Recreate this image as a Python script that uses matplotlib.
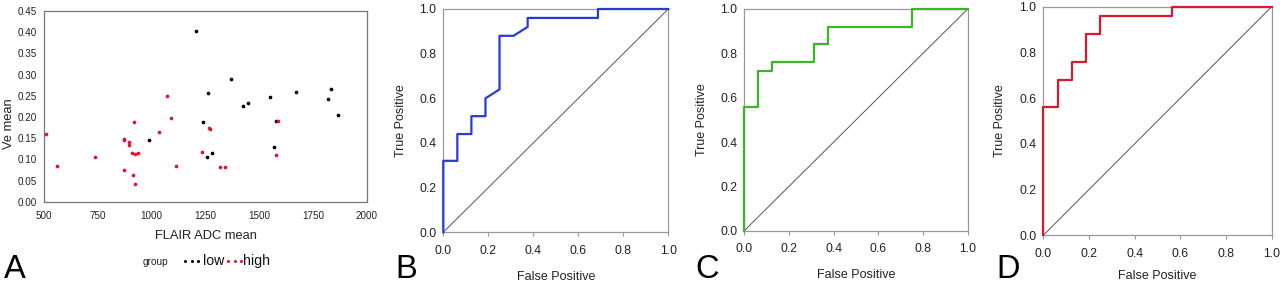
import matplotlib
matplotlib.use("Agg")
import matplotlib.pyplot as plt
from matplotlib.lines import Line2D

plt.rcParams['font.family'] = ['Liberation Sans', 'DejaVu Sans']

# ---- Panel A data: FLAIR ADC mean vs Ve mean ----
low_x = [1205, 1263, 1238, 989, 1258, 1278, 1368, 1426, 1449, 1548, 1672, 1822, 1836, 1868, 1576, 1568]
low_y = [0.404, 0.256, 0.189, 0.146, 0.106, 0.116, 0.289, 0.226, 0.234, 0.247, 0.259, 0.243, 0.265, 0.205, 0.190, 0.128]
high_x = [510, 558, 735, 869, 872, 872, 896, 896, 917, 907, 920, 934, 911, 922, 1032, 1072, 1091, 1114,
          1232, 1268, 1270, 1316, 1339, 1587, 1577]
high_y = [0.159, 0.085, 0.105, 0.074, 0.146, 0.149, 0.135, 0.141, 0.187, 0.114, 0.112, 0.116, 0.063, 0.041,
          0.165, 0.250, 0.197, 0.085, 0.118, 0.175, 0.171, 0.083, 0.083, 0.190, 0.110]

a_xticks = [500, 750, 1000, 1250, 1500, 1750, 2000]
a_yticks = [0.00, 0.05, 0.10, 0.15, 0.20, 0.25, 0.30, 0.35, 0.40, 0.45]

# ---- ROC curves ----
b_fpr = [0, 0, 0.0625, 0.0625, 0.125, 0.125, 0.1875, 0.1875, 0.25, 0.25, 0.3125, 0.375, 0.375, 0.6875, 0.6875, 1.0]
b_tpr = [0, 0.32, 0.32, 0.44, 0.44, 0.52, 0.52, 0.60, 0.64, 0.88, 0.88, 0.92, 0.96, 0.96, 1.0, 1.0]
c_fpr = [0, 0, 0.0625, 0.0625, 0.125, 0.125, 0.3125, 0.3125, 0.375, 0.375, 0.75, 0.75, 1.0]
c_tpr = [0, 0.56, 0.56, 0.72, 0.72, 0.76, 0.76, 0.84, 0.84, 0.92, 0.92, 1.0, 1.0]
d_fpr = [0, 0, 0.0625, 0.0625, 0.125, 0.125, 0.1875, 0.1875, 0.25, 0.25, 0.5625, 0.5625, 1.0]
d_tpr = [0, 0.56, 0.56, 0.68, 0.68, 0.76, 0.76, 0.88, 0.88, 0.96, 0.96, 1.0, 1.0]
roc_ticks = [0.0, 0.2, 0.4, 0.6, 0.8, 1.0]

RED = '#e0142e'
fig = plt.figure(figsize=(12.8, 2.83), dpi=100)

# ---------------- Panel A ----------------
axA = fig.add_axes([0.0346, 0.2872, 0.2519, 0.6739])
axA.scatter(low_x, low_y, s=7, c='black', linewidths=0, zorder=3)
axA.scatter(high_x, high_y, s=7, c=RED, linewidths=0, zorder=3)
axA.set_xlim(500, 2000)
axA.set_ylim(0, 0.45)
axA.set_xticks(a_xticks)
axA.set_xticklabels([str(v) for v in a_xticks])
axA.set_yticks(a_yticks)
axA.set_yticklabels(['%.2f' % v for v in a_yticks])
axA.tick_params(axis='both', length=0, labelsize=7.1, colors='#222222')
axA.tick_params(axis='x', pad=7)
axA.tick_params(axis='y', pad=5)
for sp in axA.spines.values():
    sp.set_color('#777777')
    sp.set_linewidth(0.9)
axA.set_xlabel('FLAIR ADC mean', fontsize=9.3, color='#222222', va='center')
axA.xaxis.set_label_coords(0.5, -0.18)
axA.set_ylabel('Ve mean', fontsize=9.3, color='#222222', va='center')
axA.yaxis.set_label_coords(-0.110, 0.407)

# legend
fig.text(143 / 1280, 1 - 262 / 283, 'group', fontsize=7.3, va='center', ha='left', color='#222222')
for i in range(3):
    fig.add_artist(Line2D([(185 + 6.5 * i) / 1280], [1 - 261 / 283], marker='o', markersize=2.2,
                          markeredgewidth=0, color='black', linestyle='none', transform=fig.transFigure))
    fig.add_artist(Line2D([(228 + 6.5 * i) / 1280], [1 - 261 / 283], marker='o', markersize=2.2,
                          markeredgewidth=0, color=RED, linestyle='none', transform=fig.transFigure))
fig.text(203.5 / 1280, 1 - 261 / 283, 'low', fontsize=10.2, va='center', ha='left', color='#111111')
fig.text(243 / 1280, 1 - 261 / 283, 'high', fontsize=10.2, va='center', ha='left', color='#111111')


def roc_panel(rect, fpr, tpr, color, xlabel_y, ylabel_x):
    ax = fig.add_axes(rect)
    ax.plot([0, 1], [0, 1], color='#555555', linewidth=0.7, zorder=2)
    ax.plot(fpr, tpr, color=color, linewidth=1.6, zorder=3, clip_on=False)
    ax.set_xlim(0, 1)
    ax.set_ylim(0, 1)
    ax.set_xticks(roc_ticks)
    ax.set_yticks(roc_ticks)
    ax.set_xticklabels(['%.1f' % v for v in roc_ticks])
    ax.set_yticklabels(['%.1f' % v for v in roc_ticks])
    ax.tick_params(axis='x', length=3, width=0.8, color='#999999', pad=6, labelsize=8.8, labelcolor='#222222')
    ax.tick_params(axis='y', length=0, pad=5, labelsize=8.8, labelcolor='#222222')
    for sp in ax.spines.values():
        sp.set_color('#999999')
        sp.set_linewidth(0.9)
    ax.set_xlabel('False Positive', fontsize=9, color='#222222', va='center')
    ax.xaxis.set_label_coords(0.5, xlabel_y)
    ax.set_ylabel('True Positive', fontsize=9, color='#222222', va='center')
    ax.yaxis.set_label_coords(ylabel_x, 0.5)
    return ax


roc_panel([0.3463, 0.1792, 0.1758, 0.7890], b_fpr, b_tpr, '#2a3bd0', -0.20, -0.186)
roc_panel([0.5815, 0.1848, 0.1745, 0.7834], c_fpr, c_tpr, '#3cb52a', -0.20, -0.189)
roc_panel([0.8151, 0.1686, 0.1784, 0.8078], d_fpr, d_tpr, '#d81a30', -0.176, -0.19)

# panel letters
for letter, xpx in [('A', 4), ('B', 395), ('C', 695), ('D', 996)]:
    fig.text(xpx / 1280, 1 - 277.5 / 283, letter, fontsize=23.5, ha='left', va='baseline', color='black')

fig.savefig('out.png', dpi=100)
